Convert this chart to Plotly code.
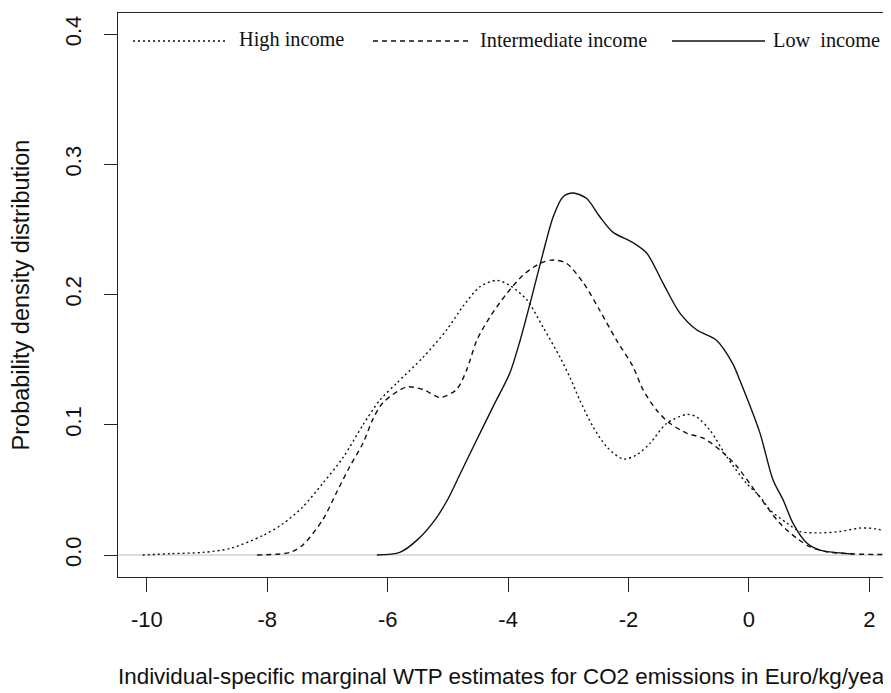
import plotly.graph_objects as go

# ---- data ----
high_x = [-10.07, -9.6, -9.07, -8.62, -8.07, -7.74, -7.41, -7.08, -6.74, -6.41, -6.13, -5.85, -5.41,
          -5.02, -4.75, -4.47, -4.19, -3.97, -3.69, -3.42, -3.14, -2.97, -2.81, -2.59, -2.36, -2.09,
          -1.87, -1.64, -1.37, -1.03, -0.87, -0.65, -0.37, -0.04, 0.18, 0.35, 0.63, 0.85, 1.18, 1.51,
          1.84, 2.12, 2.34, 2.5]
high_y = [0.0, 0.001, 0.002, 0.005, 0.015, 0.024, 0.037, 0.055, 0.075, 0.100, 0.119, 0.132, 0.152,
          0.173, 0.191, 0.206, 0.211, 0.207, 0.196, 0.175, 0.152, 0.136, 0.119, 0.0985, 0.083, 0.0737,
          0.0768, 0.086, 0.101, 0.108, 0.106, 0.096, 0.0755, 0.055, 0.045, 0.0346, 0.0245, 0.018, 0.017,
          0.018, 0.0207, 0.020, 0.017, 0.015]

mid_x = [-8.17, -7.62, -7.41, -7.08, -6.85, -6.63, -6.41, -6.25, -6.08, -5.69, -5.41, -5.13, -4.86,
         -4.69, -4.52, -4.30, -4.02, -3.75, -3.47, -3.25, -3.03, -2.75, -2.48, -2.20, -1.93, -1.76,
         -1.53, -1.31, -1.03, -0.76, -0.48, -0.20, 0.13, 0.51, 0.79, 1.01, 1.29, 1.73, 2.29, 2.5]
mid_y = [0.0, 0.002, 0.0077, 0.027, 0.048, 0.068, 0.086, 0.104, 0.117, 0.129, 0.127, 0.121, 0.127,
         0.142, 0.165, 0.183, 0.201, 0.215, 0.224, 0.2266, 0.224, 0.209, 0.188, 0.165, 0.145, 0.127,
         0.111, 0.101, 0.0935, 0.0897, 0.0806, 0.068, 0.0475, 0.0245, 0.013, 0.0064, 0.0025, 0.0008,
         0.0003, 0.0002]

low_x = [-6.18, -5.8, -5.5, -5.2, -5.0, -4.8, -4.58, -4.25, -3.97, -3.80, -3.62, -3.42, -3.25, -3.09,
         -2.92, -2.70, -2.48, -2.26, -1.93, -1.70, -1.43, -1.15, -0.87, -0.54, -0.27, -0.15, 0.18,
         0.40, 0.57, 0.73, 0.96, 1.18, 1.46, 1.73]
low_y = [0.0, 0.002, 0.012, 0.028, 0.043, 0.062, 0.083, 0.114, 0.140, 0.165, 0.196, 0.232, 0.260,
         0.275, 0.278, 0.274, 0.260, 0.248, 0.240, 0.232, 0.209, 0.186, 0.173, 0.165, 0.147, 0.134,
         0.094, 0.0576, 0.042, 0.0245, 0.0092, 0.0038, 0.0018, 0.0008]

x_ticks = [-10, -8, -6, -4, -2, 0, 2]
x_tick_labels = ["-10", "-8", "-6", "-4", "-2", "0", "2"]
y_ticks = [0.0, 0.1, 0.2, 0.3, 0.4]
y_tick_labels = ["0.0", "0.1", "0.2", "0.3", "0.4"]

series_names = ["High income", "Intermediate income", "Low  income"]

# ---- figure ----
# the page body has an 8px margin, so the figure is 8px smaller and all
# positions below are given in screen pixels and shifted by OFF
OFF = 8
W, H = 891 - OFF, 693 - OFF
L, R, T, B = 118 - OFF, 0, 13 - OFF, 693 - 577
pw, ph = W - L - R, H - T - B


def px_x(p):
    return (p - OFF - L) / pw


def px_y(p):
    return (H - B - (p - OFF)) / ph


line_col = "#111111"
dots = "2px,3px"
dashes = "5px,4px"

fig = go.Figure()
fig.add_trace(go.Scatter(x=high_x, y=high_y, mode="lines", name=series_names[0],
                         line=dict(color=line_col, width=1.4, dash=dots, shape="spline", smoothing=0.8)))
fig.add_trace(go.Scatter(x=mid_x, y=mid_y, mode="lines", name=series_names[1],
                         line=dict(color=line_col, width=1.4, dash=dashes, shape="spline", smoothing=0.8)))
fig.add_trace(go.Scatter(x=low_x, y=low_y, mode="lines", name=series_names[2],
                         line=dict(color=line_col, width=1.4, shape="spline", smoothing=0.8)))

# grey zero line
fig.add_shape(type="line", xref="paper", yref="y", x0=0, x1=1, y0=0, y1=0,
              line=dict(color="#BEBEBE", width=1.2), layer="below")

# legend keys drawn in the plot
legend_y = px_y(41)
keys = [(133, 228, dots, 237), (373, 468, dashes, 478), (672, 765, "solid", 771)]
for (a, b, d, tx), name in zip(keys, series_names):
    fig.add_shape(type="line", xref="paper", yref="paper", x0=px_x(a), x1=px_x(b),
                  y0=legend_y, y1=legend_y, line=dict(color=line_col, width=1.3, dash=d))
    fig.add_annotation(xref="paper", yref="paper", x=px_x(tx), y=px_y(40), text=name,
                       showarrow=False, xanchor="left", yanchor="middle",
                       font=dict(family="Liberation Serif, Times New Roman, serif", size=20.3, color="#111"))

# x-axis title (left-aligned because the original is clipped on the right)
fig.add_annotation(xref="paper", yref="paper", x=px_x(116), y=px_y(676),
                   text="Individual-specific marginal WTP estimates for CO2 emissions in Euro/kg/year",
                   showarrow=False, xanchor="left", yanchor="middle",
                   font=dict(family="Liberation Sans, Arial, sans-serif", size=22.4, color="#111"))

fig.update_layout(
    width=W, height=H,
    margin=dict(l=L, r=R, t=T, b=B, pad=0, autoexpand=False),
    paper_bgcolor="white", plot_bgcolor="white",
    showlegend=False,
    font=dict(family="Liberation Sans, Arial, sans-serif", size=22, color="#111"),
    xaxis=dict(range=[-10.48, 2.359], tickvals=x_ticks, ticktext=x_tick_labels, automargin=False,
               showgrid=False, zeroline=False, showline=True, mirror=True,
               linecolor="#222", linewidth=1.2, ticks="outside", ticklen=14, tickwidth=1.2,
               tickcolor="#222", ticklabelstandoff=8, tickfont=dict(size=22)),
    yaxis=dict(range=[-0.0169, 0.4163], tickvals=y_ticks, ticktext=y_tick_labels, automargin=False,
               showgrid=False, zeroline=False, showline=True, mirror=False,
               linecolor="#222", linewidth=1.2, ticks="outside", ticklen=13, tickwidth=1.2,
               tickcolor="#222", tickangle=-90, ticklabelstandoff=14, tickfont=dict(size=22),
               title=dict(text="Probability density distribution", standoff=27,
                          font=dict(size=23.5))),
)

fig.write_html("out.html")
